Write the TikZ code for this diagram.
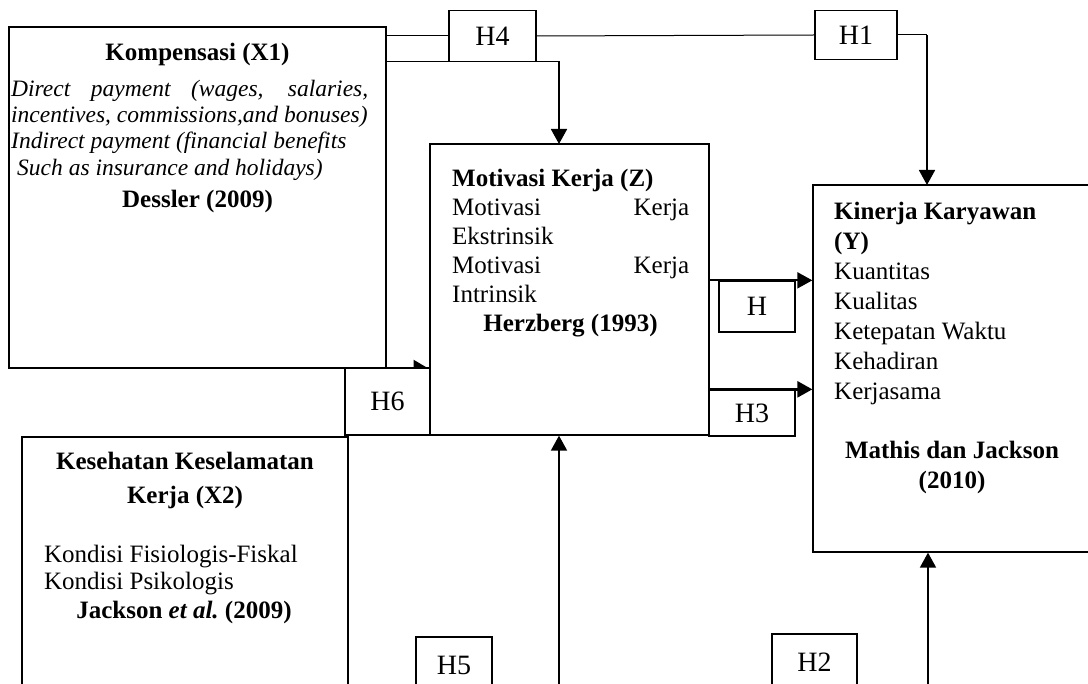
\documentclass[tikz,border=0pt]{standalone}
\usepackage{fontspec}
\setmainfont{Liberation Serif}
\usetikzlibrary{arrows.meta}

\tikzset{
  varbox/.style={draw, line width=1.3pt, inner sep=0pt},
  hypbox/.style={draw, line width=1.3pt, fill=white, inner sep=0pt, font=\fontsize{28}{30}\selectfont},
  txt/.style={inner sep=0pt, font=\fontsize{25}{30}\selectfont},
  txtb/.style={inner sep=0pt, font=\fontsize{25}{30}\selectfont\bfseries},
  itxt/.style={inner sep=0pt, font=\fontsize{23.5}{27}\selectfont\itshape},
  link/.style={line width=1pt},
  pointer/.style={line width=1.8pt, -{Triangle[width=16pt,length=15pt]}},
}

\begin{document}
\begin{tikzpicture}[x=1pt,y=-1pt]
\useasboundingbox (0,0) rectangle (1088,684);
\clip (0,0) rectangle (1088,684);

% variable boxes
\node[varbox, minimum width=377pt, minimum height=341pt] (x1) at (197.5,197.5) {};
\node[varbox, minimum width=279pt, minimum height=291pt] (z) at (569.5,289.5) {};
\node[varbox, minimum width=290pt, minimum height=367pt] (y) at (958,368.5) {};
\node[varbox, minimum width=326pt, minimum height=263pt] (x2) at (185,568.5) {};

% hypothesis boxes
\node[hypbox, minimum width=87pt, minimum height=51pt] (h4) at (492.5,36) {H4};
\node[hypbox, minimum width=82pt, minimum height=49pt] (h1) at (856,35) {H1};
\node[hypbox, minimum width=76pt, minimum height=51pt] (h) at (757,306.5) {H};
\node[hypbox, minimum width=86pt, minimum height=46pt] (h3) at (752,413) {H3};
\node[hypbox, minimum width=85pt, minimum height=67pt] (h6) at (387.5,401.5) {H6};
\node[hypbox, minimum width=76pt, minimum height=56pt] (h5) at (454,665) {H5};
\node[hypbox, minimum width=85pt, minimum height=56pt] (h2) at (814.5,662) {H2};

% connectors
\coordinate (x1top) at ([yshift=-35pt]x1.north east);
\coordinate (x1low) at (183,368);
\coordinate (zin) at (559,144);
\coordinate (yin) at (927,185);
\coordinate (zfoot) at (559,700);
\coordinate (yfoot) at (928,700);
\draw[link] (x1.east |- h4.west) -- (h4.west);
\draw[link] (h4.east) -- (h1.west);
\draw[link] (h1.east) -- (h1.east -| yin);
\draw[pointer] (h1.east -| yin) -- (yin);
\draw[link] (x1top) -- (x1top -| zin);
\draw[pointer] (x1top -| zin) -- (zin);
\draw[pointer] (z.east |- h.north) -- (y.west |- h.north);
\draw[pointer, line width=2.6pt] (z.east |- h3.north) -- (y.west |- h3.north);
\draw[line width=2pt, -{Triangle[left, width=16pt, length=14pt]}] (x1low) -- (z.west |- x1low);
\draw[pointer] (zfoot) -- (z.south -| zfoot);
\draw[pointer] (yfoot) -- (y.south -| yfoot);

% Kompensasi
\node[txtb, anchor=base] (x1name) at (197.5,61) {Kompensasi (X1)};
\node[itxt, anchor=base west] (x1a) at (11,97) {\makebox[357pt][s]{Direct payment (wages, salaries,}};
\node[itxt, anchor=base west] (x1b) at (11,123) {incentives, commissions,and bonuses)};
\node[itxt, anchor=base west] (x1c) at (11,149) {Indirect payment (financial benefits};
\node[itxt, anchor=base west] (x1d) at (17,176) {Such as insurance and holidays)};
\node[txtb, anchor=base] (x1src) at (197.5,208) {Dessler (2009)};

% Motivasi Kerja
\node[txtb, anchor=base west] (zname) at (452,187) {Motivasi Kerja (Z)};
\node[txt, anchor=base west] (za) at (452,216) {\makebox[237pt][s]{Motivasi Kerja}};
\node[txt, anchor=base west] (zb) at (452,245) {Ekstrinsik};
\node[txt, anchor=base west] (zc) at (452,274) {\makebox[237pt][s]{Motivasi Kerja}};
\node[txt, anchor=base west] (zd) at (452,303) {Intrinsik};
\node[txtb, anchor=base] (zsrc) at (570.5,332) {Herzberg (1993)};

% Kinerja Karyawan
\node[txtb, anchor=base west] (yname) at (834,220) {Kinerja Karyawan};
\node[txtb, anchor=base west] (ynameb) at (834,250) {(Y)};
\node[txt, anchor=base west] (ya) at (834,280) {Kuantitas};
\node[txt, anchor=base west] (yb) at (834,310) {Kualitas};
\node[txt, anchor=base west] (yc) at (834,340) {Ketepatan Waktu};
\node[txt, anchor=base west] (yd) at (834,370) {Kehadiran};
\node[txt, anchor=base west] (ye) at (834,400) {Kerjasama};
\node[txtb, anchor=base] (ysrc) at (952,459) {Mathis dan Jackson};
\node[txtb, anchor=base] (ysrcb) at (952,489) {(2010)};

% K3
\node[txtb, anchor=base] (x2name) at (185,470) {Kesehatan Keselamatan};
\node[txtb, anchor=base] (x2nameb) at (185,504) {Kerja (X2)};
\node[txt, anchor=base west] (x2a) at (44,562) {Kondisi Fisiologis-Fiskal};
\node[txt, anchor=base west] (x2b) at (44,590) {Kondisi Psikologis};
\node[txtb, anchor=base] (x2src) at (184,619) {Jackson \textit{et al.}\ (2009)};
\end{tikzpicture}
\end{document}
